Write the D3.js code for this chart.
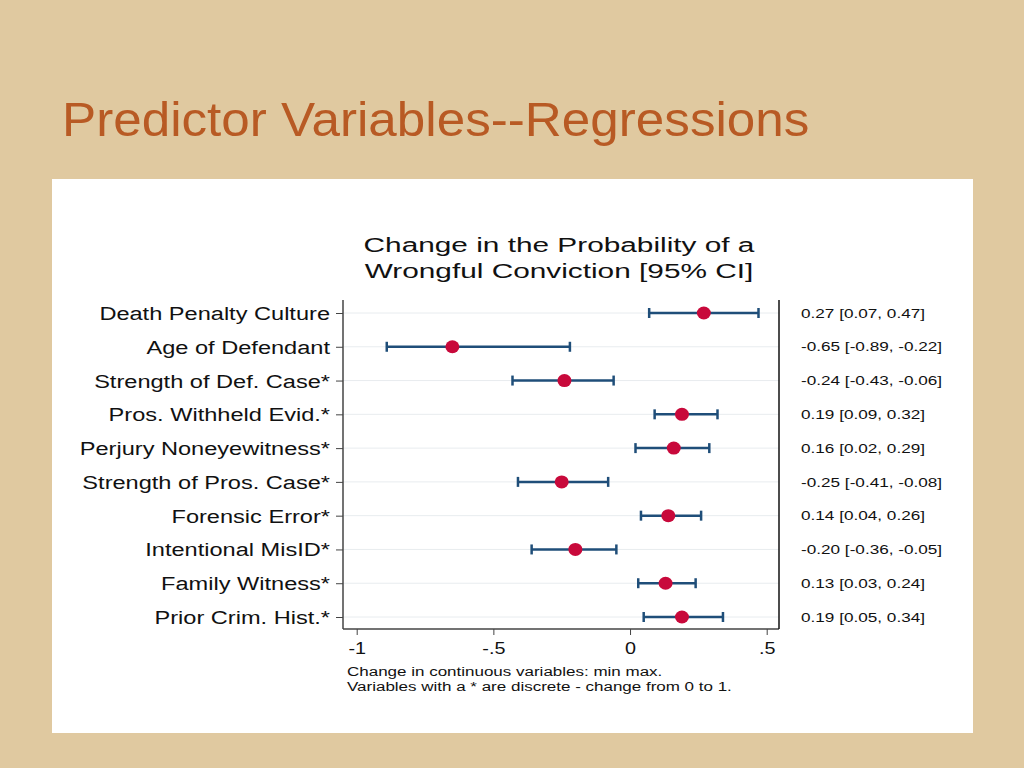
<!DOCTYPE html>
<html>
<head>
<meta charset="utf-8">
<script src="https://cdn.jsdelivr.net/npm/d3@7"></script>
<style>
  body { margin: 0; background: #e0c9a0; }
  svg { display: block; font-family: "Liberation Sans", Arial, sans-serif; }
</style>
</head>
<body>
<div id="chart"></div>
<script>
  const variables = [
    "Death Penalty Culture",
    "Age of Defendant",
    "Strength of Def. Case*",
    "Pros. Withheld Evid.*",
    "Perjury Noneyewitness*",
    "Strength of Pros. Case*",
    "Forensic Error*",
    "Intentional MisID*",
    "Family Witness*",
    "Prior Crim. Hist.*",
  ];
  const estimates = [0.27, -0.65, -0.24, 0.19, 0.16, -0.25, 0.14, -0.2, 0.13, 0.19];
  const lower = [0.07, -0.89, -0.43, 0.09, 0.02, -0.41, 0.04, -0.36, 0.03, 0.05];
  const upper = [0.47, -0.22, -0.06, 0.32, 0.29, -0.08, 0.26, -0.05, 0.24, 0.34];
  const xTicks = [-1, -0.5, 0, 0.5];
  const xTickLabels = ["-1", "-.5", "0", ".5"];
  const titleLines = ["Change in the Probability of a", "Wrongful Conviction [95% CI]"];
  const noteLines = ["Change in continuous variables: min max.", "Variables with a * are discrete - change from 0 to 1."];

  const width = 1024;
  const height = 768;
  // the Stata graph is stretched sideways on the slide
  const STRETCH = 1.31;

  const svg = d3.select("#chart").append("svg").attr("width", width).attr("height", height);

  svg.append("rect").attr("width", width).attr("height", height).attr("fill", "#e0c9a0");

  svg
    .append("text")
    .attr("transform", "translate(62,136) scale(1.045,1)")
    .attr("font-size", "49px")
    .attr("fill", "#b85a24")
    .text("Predictor Variables--Regressions");

  svg.append("rect").attr("x", 52).attr("y", 179).attr("width", 921).attr("height", 554).attr("fill", "#fff");

  const plot = { left: 343, right: 779, top: 300, bottom: 629 };

  const xScale = d3.scaleLinear().domain([-1, 0.5]).range([356.7, 766.7]);
  const yScale = d3.scalePoint().domain(d3.range(variables.length)).range([313, 617]);

  const data = variables.map((v, i) => ({ v, i, est: estimates[i], lo: lower[i], hi: upper[i] }));

  // title
  svg
    .selectAll(".title")
    .data(titleLines)
    .join("text")
    .attr("class", "title")
    .attr("transform", (d, i) => `translate(559,${252 + i * 26}) scale(1.42,1)`)
    .attr("text-anchor", "middle")
    .attr("font-size", "21px")
    .attr("fill", "#111")
    .text(d => d);

  // gridlines
  svg
    .selectAll(".grid")
    .data(data)
    .join("line")
    .attr("class", "grid")
    .attr("x1", plot.left)
    .attr("x2", plot.right)
    .attr("y1", d => yScale(d.i))
    .attr("y2", d => yScale(d.i))
    .attr("stroke", "#e8ecef")
    .attr("stroke-width", 1);

  // left axis
  const yAxis = d3
    .axisLeft(yScale)
    .tickSize(7)
    .tickFormat(i => variables[i]);
  const gy = svg.append("g").attr("transform", `translate(${plot.left},0)`).call(yAxis);
  gy.select(".domain").attr("d", `M0,${plot.top}V${plot.bottom}`).attr("stroke", "#444").attr("stroke-width", 1.5);
  gy.selectAll(".tick line").attr("stroke", "#444");
  gy.selectAll(".tick text")
    .attr("x", -13 / STRETCH)
    .attr("dy", "0.36em")
    .attr("transform", `scale(${STRETCH},1)`)
    .attr("font-size", "18px")
    .attr("fill", "#111")
    .attr("font-family", "Liberation Sans, Arial, sans-serif");

  // bottom axis
  const xAxis = d3
    .axisBottom(xScale)
    .tickValues(xTicks)
    .tickSize(6)
    .tickPadding(7)
    .tickFormat((d, i) => xTickLabels[i]);
  const gx = svg.append("g").attr("transform", `translate(0,${plot.bottom})`).call(xAxis);
  gx.select(".domain").attr("d", `M${plot.left},0H${plot.right}`).attr("stroke", "#444").attr("stroke-width", 1.5);
  gx.selectAll(".tick line").attr("stroke", "#444");
  gx.selectAll(".tick text")
    .attr("transform", "scale(1.2,1)")
    .attr("font-size", "16.5px")
    .attr("fill", "#111")
    .attr("font-family", "Liberation Sans, Arial, sans-serif");

  // right border
  svg
    .append("line")
    .attr("x1", plot.right)
    .attr("x2", plot.right)
    .attr("y1", plot.top)
    .attr("y2", plot.bottom)
    .attr("stroke", "#111")
    .attr("stroke-width", 1.5);

  // CI bars
  const ci = svg.selectAll(".ci").data(data).join("g").attr("class", "ci").attr("stroke", "#1f4e79").attr("stroke-width", 2.5);
  ci.append("line")
    .attr("x1", d => xScale(d.lo))
    .attr("x2", d => xScale(d.hi))
    .attr("y1", d => yScale(d.i))
    .attr("y2", d => yScale(d.i));
  ci.selectAll(".cap")
    .data(d => [d.lo, d.hi].map(x => ({ x, i: d.i })))
    .join("line")
    .attr("class", "cap")
    .attr("x1", d => xScale(d.x))
    .attr("x2", d => xScale(d.x))
    .attr("y1", d => yScale(d.i) - 5)
    .attr("y2", d => yScale(d.i) + 5);

  // points
  svg
    .selectAll(".pt")
    .data(data)
    .join("ellipse")
    .attr("class", "pt")
    .attr("cx", d => xScale(d.est))
    .attr("cy", d => yScale(d.i))
    .attr("rx", 7)
    .attr("ry", 6.5)
    .attr("fill", "#c8093b");

  // value labels
  const f = v => d3.format(".2f")(v).replace("\u2212", "-");
  svg
    .selectAll(".val")
    .data(data)
    .join("text")
    .attr("class", "val")
    .attr("transform", d => `translate(801,${yScale(d.i)}) scale(1.32,1)`)
    .attr("dy", "0.36em")
    .attr("font-size", "13px")
    .attr("fill", "#111")
    .text(d => `${f(d.est)} [${f(d.lo)}, ${f(d.hi)}]`);

  // note
  svg
    .selectAll(".note")
    .data(noteLines)
    .join("text")
    .attr("class", "note")
    .attr("transform", (d, i) => `translate(347,${676 + i * 15}) scale(1.36,1)`)
    .attr("font-size", "12.5px")
    .attr("fill", "#111")
    .text(d => d);
</script>
</body>
</html>
